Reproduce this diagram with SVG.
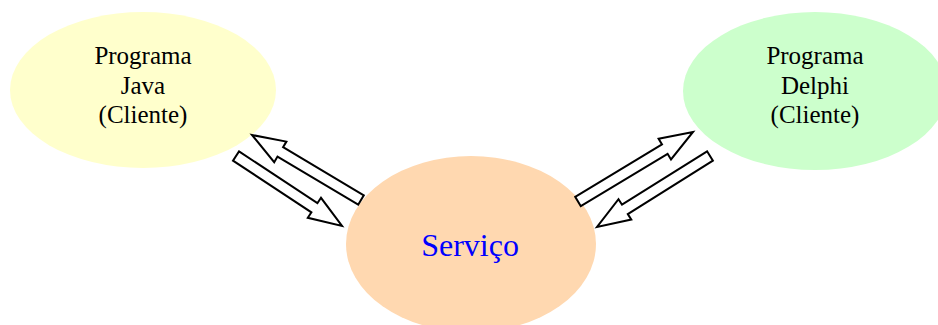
<svg xmlns="http://www.w3.org/2000/svg" width="938" height="325" viewBox="0 0 938 325">
<style>
.lbl{font-family:"Liberation Serif","Times New Roman",serif;font-size:25px;fill:#000;text-anchor:middle}
.svc{font-family:"Liberation Serif","Times New Roman",serif;font-size:32px;fill:#0000FF;text-anchor:middle}
.arr{fill:#fff;stroke:#000;stroke-width:2;stroke-linejoin:miter}
</style>
<rect width="938" height="325" fill="#fff"/>
<g id="java">
<ellipse cx="143" cy="90" rx="133" ry="78" fill="#FFFFCC"/>
<text class="lbl" x="143" y="64">Programa</text>
<text class="lbl" x="143" y="94">Java</text>
<text class="lbl" x="143" y="123">(Cliente)</text>
</g>
<g id="delphi">
<ellipse cx="815" cy="91" rx="132" ry="79" fill="#CCFFCC"/>
<text class="lbl" x="815" y="64">Programa</text>
<text class="lbl" x="815" y="94">Delphi</text>
<text class="lbl" x="815" y="123">(Cliente)</text>
</g>
<g id="servico">
<ellipse cx="471" cy="244" rx="125" ry="88" fill="#FFD8B0"/>
<text class="svc" x="470" y="256">Serviço</text>
</g>
<g id="connectors">
<polygon class="arr" points="363.8,195.3 283.1,147.2 286.4,141.6 252,135 274.2,162.2 277.5,156.6 358.2,204.7"/>
<polygon class="arr" points="239.0,151.4 317.4,203.2 321.0,197.8 342,226 307.8,217.8 311.4,212.4 233.0,160.6"/>
<polygon class="arr" points="575.2,196.8 662.0,144.4 658.6,138.8 693,132 671.0,159.4 667.6,153.8 580.8,206.2"/>
<polygon class="arr" points="707.1,151.3 622.0,204.7 618.5,199.2 597,227 631.3,219.6 627.8,214.1 712.9,160.7"/>
</g>
</svg>
